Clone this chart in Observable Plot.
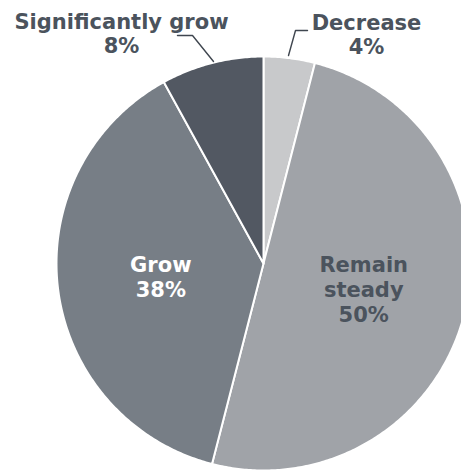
<!DOCTYPE html>
<html>
<head>
<meta charset="utf-8">
<script src="https://cdn.jsdelivr.net/npm/d3@7"></script>
<script src="https://cdn.jsdelivr.net/npm/@observablehq/plot@0.6"></script>
<style>
  html, body { margin: 0; padding: 0; background: #fff; }
</style>
</head>
<body>
<div id="chart"></div>
<script>
// ---- data ----
const categories = ["Decrease", "Remain steady", "Grow", "Significantly grow"];
const shares = [4, 50, 38, 8];
const labelLines = [["Decrease"], ["Remain", "steady"], ["Grow"], ["Significantly grow"]];
const colors = ["#c8c9cb", "#a0a3a8", "#777e86", "#525862"];
const textColors = ["#4b535d", "#4b535d", "#ffffff", "#4b535d"];

// ---- geometry (layout) ----
const W = 461, H = 472;
const cx = 263, cy = 263, R = 207;

const pie = d3.pie().sort(null).value(d => d.share)(
  categories.map((c, i) => ({category: c, share: shares[i], i}))
);

// slice outlines in unit data space (x right, y up), angle 0 at 12 o'clock, clockwise
const slicePoints = [];
for (const a of pie) {
  const pts = [[0, 0]];
  const n = Math.max(4, Math.ceil((a.endAngle - a.startAngle) / 0.01));
  for (let k = 0; k <= n; k++) {
    const t = a.startAngle + (a.endAngle - a.startAngle) * k / n;
    pts.push([Math.sin(t), Math.cos(t)]);
  }
  pts.push([0, 0]);
  for (const [x, y] of pts) slicePoints.push({x, y, category: a.data.category});
}

// inside labels at half radius along the mid angle; outside labels placed above the pie
const outside = {
  "Decrease": {x: 0.4976, y: 1.0097, leader: [[0.2126, 1.1256], [0.1546, 1.1256], [0.1208, 1.0048]]},
  "Significantly grow": {x: -0.686, y: 1.0145, leader: [[-0.4155, 1.1014], [-0.343, 1.1014], [-0.2415, 0.9758]]}
};

const labels = pie.map(a => {
  const c = a.data.category, i = a.data.i;
  const text = [...labelLines[i], `${shares[i]}%`].join("\n");
  if (outside[c]) return {text, x: outside[c].x, y: outside[c].y, anchor: "bottom", color: textColors[i]};
  const m = (a.startAngle + a.endAngle) / 2;
  return {text, x: 0.5 * Math.sin(m), y: 0.5 * Math.cos(m), anchor: "middle", color: textColors[i]};
});

const leaders = [];
for (const c of Object.keys(outside)) {
  for (const [x, y] of outside[c].leader) leaders.push({x, y, category: c});
}

const chart = Plot.plot({
  width: W,
  height: H,
  margin: 0,
  x: {domain: [-1, 1], range: [cx - R, cx + R], axis: null},
  y: {domain: [-1, 1], range: [cy + R, cy - R], axis: null},
  color: {domain: categories, range: colors},
  style: {fontFamily: "'DejaVu Sans', Verdana, sans-serif", background: "#fff", overflow: "visible"},
  marks: [
    Plot.line(slicePoints, {
      x: "x", y: "y", z: "category", fill: "category",
      stroke: "#ffffff", strokeWidth: 2, strokeLinejoin: "round", curve: "linear-closed"
    }),
    Plot.line(leaders, {x: "x", y: "y", z: "category", stroke: "#3f464f", strokeWidth: 1.4}),
    Plot.text(labels.filter(d => d.anchor === "bottom"), {
      x: "x", y: "y", text: "text", fill: "color", lineAnchor: "bottom",
      fontSize: 21, fontWeight: "bold", lineHeight: 1.19
    }),
    Plot.text(labels.filter(d => d.anchor === "middle"), {
      x: "x", y: "y", text: "text", fill: "color", lineAnchor: "middle",
      fontSize: 21, fontWeight: "bold", lineHeight: 1.19
    })
  ]
});

document.getElementById("chart").appendChild(chart);
</script>
</body>
</html>
